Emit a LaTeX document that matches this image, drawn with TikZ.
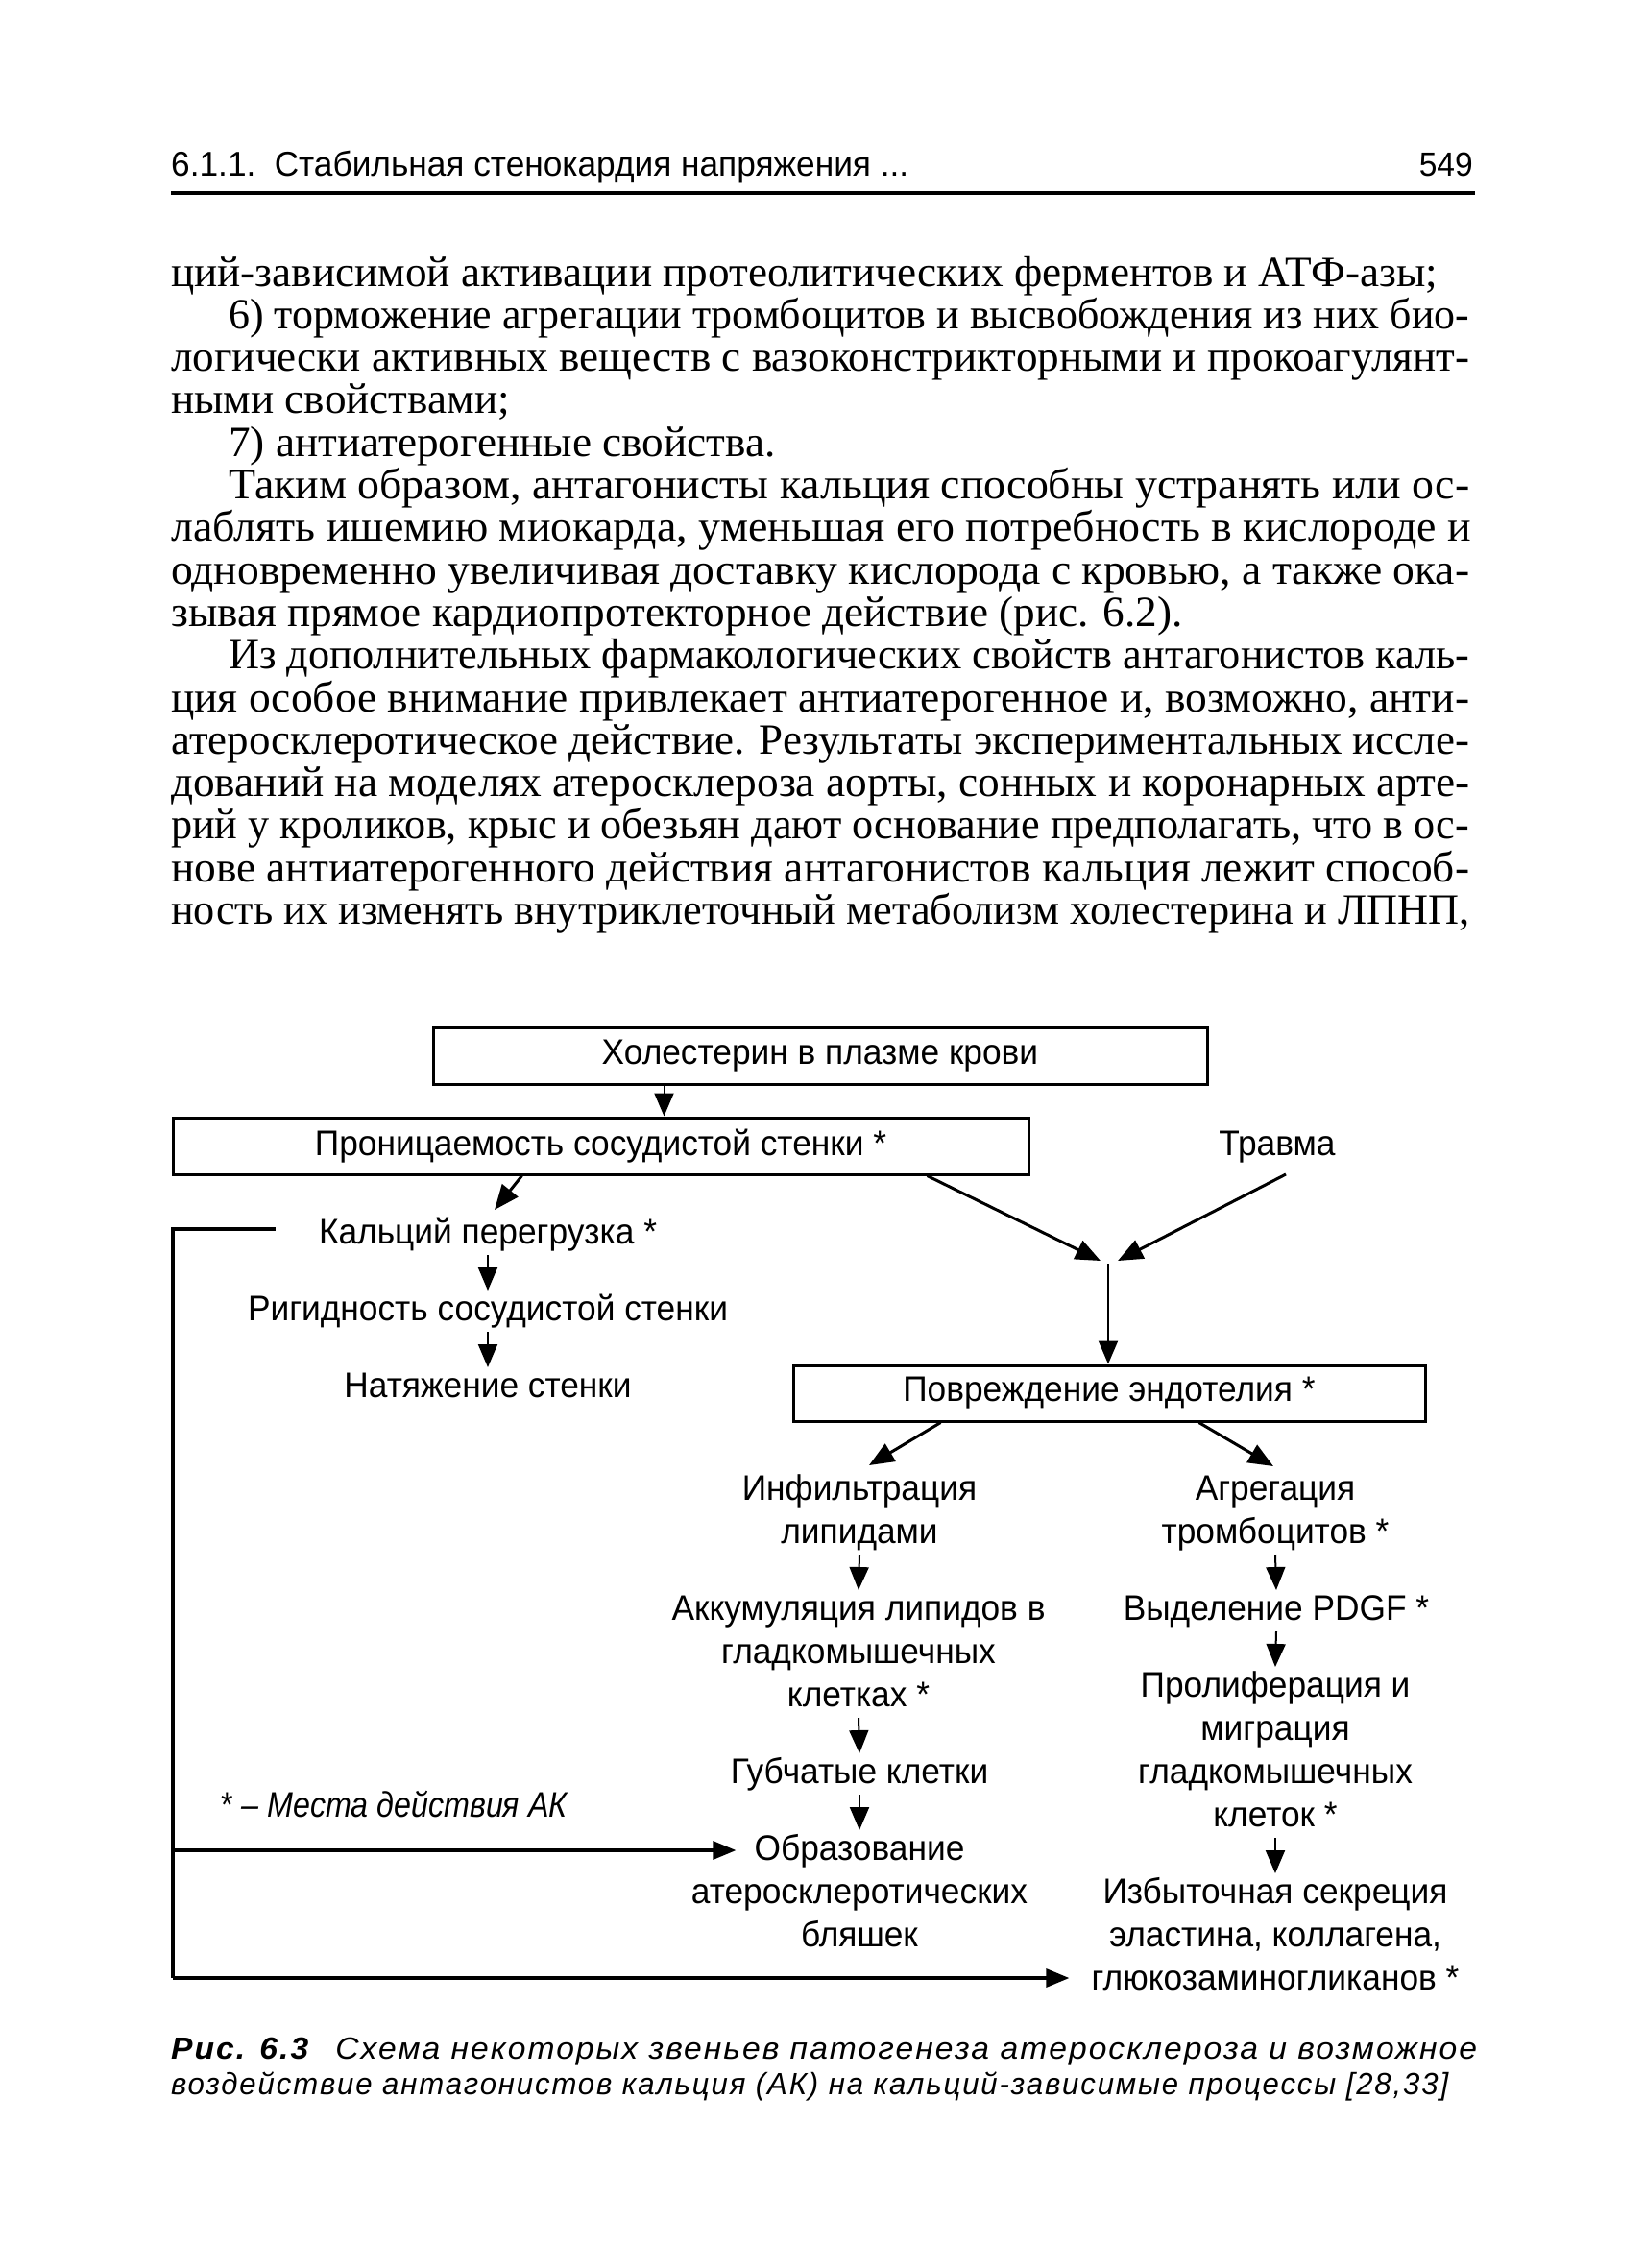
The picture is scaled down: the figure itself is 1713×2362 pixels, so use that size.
\documentclass[tikz,border=0pt]{standalone}
\usepackage{fontspec}
\usepackage{graphicx}
\usetikzlibrary{arrows.meta,calc}
\newlength\mylen
\newfontfamily\dgm{Liberation Sans}
\settowidth\mylen{\dgm\fontsize{37}{44}\selectfont Ригидность сосудистой стенки}
\pgfmathsetmacro\dfac{500/\mylen}
\edef\tmpa{\noexpand\newfontfamily\noexpand\dg[FakeStretch=\dfac]{Liberation Sans}}\tmpa
\newfontfamily\bdm{Liberation Serif}
\settowidth\mylen{\bdm\fontsize{45}{44}\selectfont ций-зависимой активации протеолитических ферментов и АТФ-азы;}
\pgfmathsetmacro\bfac{1319/\mylen}
\edef\tmpb{\noexpand\newfontfamily\noexpand\bd[FakeStretch=\bfac]{Liberation Serif}}\tmpb
\newfontfamily\cpf[LetterSpace=6]{Liberation Sans}
\newcommand\jl[2]{\resizebox{#1pt}{\height}{#2}}
\begin{document}
\begin{tikzpicture}[x=1pt,y=-1pt,
  dgf/.style={font=\dg\fontsize{37}{44}\selectfont},
  lbl/.style={dgf, anchor=base, inner sep=0pt},
  bline/.style={anchor=base west, inner sep=0pt, font=\bd\fontsize{45}{44}\selectfont},
  boxn/.style={draw, line width=3pt, dgf, inner sep=0pt},
  arr/.style={line width=2pt, -{Triangle[length=24pt,width=20pt]}},
  darr/.style={line width=3pt, -{Triangle[length=26pt,width=21pt]}},
  loopl/.style={line width=3.2pt},
  capf/.style={anchor=base west, inner sep=0pt, font=\cpf\itshape\fontsize{32}{40}\selectfont}
]
\path[use as bounding box, fill=white] (0,0) rectangle (1713,2362);

% header
\node[anchor=base west, inner sep=0pt, font=\dgm\fontsize{36}{40}\selectfont] (hd) at (178,183) {\jl{768}{6.1.1.\hspace{0.55em}Стабильная стенокардия напряжения ...}};
\node[anchor=base east, inner sep=0pt, font=\dgm\fontsize{35}{40}\selectfont] (pg) at (1534,183) {\jl{56}{549}};
\draw[line width=3.5pt] ($(hd.base west)+(0,18)$) -- ($(pg.base east)+(2,18)$);

% body text
\node[bline] (b0) at (178,298) {ций-зависимой активации протеолитических ферментов и АТФ-азы;};
\node[bline] (b1) at (238,342.3) {\jl{1292}{6) торможение агрегации тромбоцитов и высвобождения из них био-}};
\node[bline] (b2) at (178,386.6) {\jl{1352}{логически активных веществ с вазоконстрикторными и прокоагулянт-}};
\node[bline] (b3) at (178,430.9) {ными свойствами;};
\node[bline] (b4) at (238,475.2) {7) антиатерогенные свойства.};
\node[bline] (b5) at (238,519.5) {\jl{1292}{Таким образом, антагонисты кальция способны устранять или ос-}};
\node[bline] (b6) at (178,563.8) {\jl{1354}{лаблять ишемию миокарда, уменьшая его потребность в кислороде и}};
\node[bline] (b7) at (178,608.1) {\jl{1352}{одновременно увеличивая доставку кислорода с кровью, а также ока-}};
\node[bline] (b8) at (178,652.4) {зывая прямое кардиопротекторное действие (рис. 6.2).};
\node[bline] (b9) at (238,696.7) {\jl{1292}{Из дополнительных фармакологических свойств антагонистов каль-}};
\node[bline] (b10) at (178,741.0) {\jl{1352}{ция особое внимание привлекает антиатерогенное и, возможно, анти-}};
\node[bline] (b11) at (178,785.3) {\jl{1352}{атеросклеротическое действие. Результаты экспериментальных иссле-}};
\node[bline] (b12) at (178,829.6) {\jl{1352}{дований на моделях атеросклероза аорты, сонных и коронарных арте-}};
\node[bline] (b13) at (178,873.9) {\jl{1352}{рий у кроликов, крыс и обезьян дают основание предполагать, что в ос-}};
\node[bline] (b14) at (178,918.2) {\jl{1352}{нове антиатерогенного действия антагонистов кальция лежит способ-}};
\node[bline] (b15) at (178,962.5) {\jl{1352}{ность их изменять внутриклеточный метаболизм холестерина и ЛПНП,}};

% boxes
\node[boxn, minimum width=806pt, minimum height=59pt] (box1) at (854,1099.5) {Холестерин в плазме крови};
\node[boxn, minimum width=891pt, minimum height=59pt] (box2) at (625.5,1193.5) {Проницаемость сосудистой стенки *};
\node[boxn, minimum width=658pt, minimum height=58pt] (box3) at (1155,1451) {Повреждение эндотелия *};

% labels
\node[lbl] (trav) at (1330,1203) {Травма};
\node[lbl] (kal) at (508,1295) {Кальций перегрузка *};
\node[lbl] (rig) at (508,1375) {Ригидность сосудистой стенки};
\node[lbl] (nat) at (508,1455) {Натяжение стенки};
\node[lbl] (inf1) at (895,1562) {Инфильтрация};
\node[lbl] (inf2) at (895,1607) {липидами};
\node[lbl] (agr1) at (1328,1562) {Агрегация};
\node[lbl] (agr2) at (1328,1607) {тромбоцитов *};
\node[lbl] (akk1) at (894,1687) {Аккумуляция липидов в};
\node[lbl] (akk2) at (894,1732) {гладкомышечных};
\node[lbl] (akk3) at (894,1777) {клетках *};
\node[lbl] (vyd) at (1329,1687) {Выделение PDGF *};
\node[lbl] (gub) at (895,1857) {Губчатые клетки};
\node[lbl] (pro1) at (1328,1767) {Пролиферация и};
\node[lbl] (pro2) at (1328,1812) {миграция};
\node[lbl] (pro3) at (1328,1857) {гладкомышечных};
\node[lbl] (pro4) at (1328,1902) {клеток *};
\node[lbl] (obr1) at (895,1937) {Образование};
\node[lbl] (obr2) at (895,1982) {атеросклеротических};
\node[lbl] (obr3) at (895,2027) {бляшек};
\node[lbl] (izb1) at (1328,1982) {Избыточная секреция};
\node[lbl] (izb2) at (1328,2027) {эластина, коллагена,};
\node[lbl] (izb3) at (1328,2072) {глюкозаминогликанов *};
\node[lbl, anchor=base west] (leg) at (230,1892) {\jl{362}{* \textit{– Места действия АК}}};

% connectors
\draw[arr] ($(box1.south west)+(242,0)$) coordinate (t1) -- (t1 |- box2.north);
\draw[darr] ($(box2.south west)+(365,0)$) -- ($(kal.base)+(7,-35)$);
\coordinate (j) at (1154,1313);
\draw[darr] ($(box2.south west)+(787,0)$) -- ($(j)+(-8,0)$);
\draw[darr] ($(trav.base)+(9,20)$) -- ($(j)+(10,0)$);
\draw[arr] ($(j)+(0,3)$) -- (j |- box3.north);
\draw[arr] ($(kal.base)+(0,12)$) -- ($(rig.base)+(0,-31)$);
\draw[arr] ($(rig.base)+(0,12)$) -- ($(nat.base)+(0,-31)$);
\draw[darr] ($(box3.south west)+(155,0)$) -- ($(inf1.base)+(10,-36)$);
\draw[darr] ($(box3.south west)+(424,0)$) -- ($(agr1.base)+(-2,-35)$);
\draw[arr] ($(inf2.base)+(0,12)$) -- ($(akk1.base)+(0,-31)$);
\draw[arr] ($(akk3.base)+(0,12)$) -- ($(gub.base)+(0,-31)$);
\draw[arr] ($(gub.base)+(0,12)$) -- ($(obr1.base)+(0,-31)$);
\draw[arr] ($(agr2.base)+(0,12)$) -- ($(vyd.base)+(0,-31)$);
\draw[arr] ($(vyd.base)+(0,12)$) -- ($(pro1.base)+(0,-31)$);
\draw[arr] ($(pro4.base)+(0,12)$) -- ($(izb1.base)+(0,-31)$);

% feedback loop
\coordinate (lt) at (180,1280);
\coordinate (lm) at (180,1927);
\coordinate (lb) at (180,2060);
\draw[loopl] ($(kal.base west)+(-45,-15)$) -- (lt) -- (lb);
\draw[loopl, -{Triangle[length=24pt,width=19pt]}] (lm) -- ($(obr1.base west)+(-19,-10)$);
\draw[loopl, -{Triangle[length=24pt,width=19pt]}] (lb) -- ($(izb3.base west)+(-23,-12)$);

% caption
\node[capf] (cap1) at (178,2144) {\jl{1360}{\textbf{Рис. 6.3}\hspace{0.5em} Схема некоторых звеньев патогенеза атеросклероза и возможное}};
\node[capf] (cap2) at (178,2181) {\jl{1330}{воздействие антагонистов кальция (АК) на кальций-зависимые процессы [28,33]}};
\end{tikzpicture}
\end{document}
